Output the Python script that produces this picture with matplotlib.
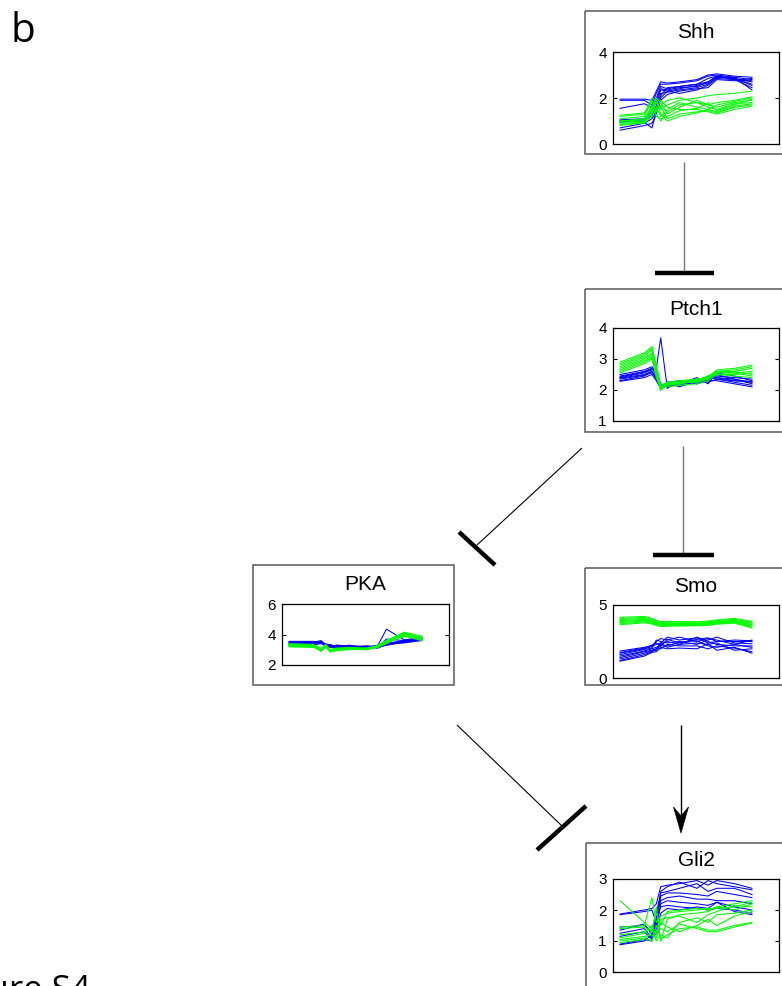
import matplotlib
matplotlib.use("Agg")
import matplotlib.pyplot as plt
from matplotlib.lines import Line2D
from matplotlib.patches import Rectangle, Polygon
from matplotlib.transforms import Affine2D

plt.rcParams['font.family'] = ['Liberation Sans', 'DejaVu Sans']

# ---------------- data ----------------
time_points = [0, 11, 14.5, 16.5, 18.5, 21.5, 27, 35, 40, 44, 52, 60]

panel_names = ['Shh', 'Ptch1', 'PKA', 'Smo', 'Gli2']
panel_ylims = [(0, 4), (1, 4), (2, 6), (0, 5), (0, 3)]
panel_yticks = [[0, 2, 4], [1, 2, 3, 4], [2, 4, 6], [0, 5], [0, 1, 2, 3]]

shh_blue = [
    [1.95, 1.95, 1.9, 2.3, 2.7, 2.65, 2.7, 2.8, 3.0, 3.05, 2.95, 2.9],
    [1.9, 1.9, 1.7, 2.2, 2.6, 2.6, 2.65, 2.75, 2.95, 3.0, 2.9, 2.8],
    [1.55, 1.75, 1.6, 2.0, 2.5, 2.4, 2.5, 2.6, 2.85, 2.95, 2.85, 2.7],
    [1.05, 1.1, 1.4, 1.9, 2.4, 2.35, 2.45, 2.5, 2.7, 2.9, 2.85, 2.6],
    [1.0, 1.05, 1.2, 1.7, 2.35, 2.3, 2.4, 2.55, 2.65, 2.95, 2.8, 2.45],
    [0.95, 1.0, 1.3, 1.5, 2.2, 2.25, 2.35, 2.45, 2.6, 2.9, 2.9, 2.35],
    [0.7, 0.9, 1.1, 1.4, 2.0, 2.3, 2.2, 2.35, 2.55, 2.85, 2.8, 2.75],
    [0.6, 0.8, 0.9, 1.3, 1.9, 2.15, 2.3, 2.4, 2.45, 2.8, 2.75, 2.85],
    [1.0, 0.95, 0.7, 1.4, 2.1, 2.45, 2.5, 2.6, 2.7, 2.95, 2.85, 2.55],
]
shh_green = [
    [1.2, 1.3, 2.0, 1.9, 1.5, 1.7, 1.9, 2.0, 2.1, 2.15, 2.2, 2.3],
    [1.1, 1.2, 1.9, 1.6, 1.2, 1.5, 1.8, 1.6, 1.5, 1.7, 1.85, 2.0],
    [1.0, 1.05, 1.5, 2.0, 1.8, 1.3, 1.6, 1.9, 1.7, 1.6, 1.8, 1.9],
    [0.95, 1.0, 1.7, 1.3, 1.0, 1.4, 1.7, 1.8, 1.6, 1.5, 1.75, 1.8],
    [0.9, 0.95, 1.4, 1.8, 1.6, 1.1, 1.3, 1.4, 1.45, 1.35, 1.6, 1.7],
    [0.85, 0.9, 1.2, 1.5, 1.9, 1.6, 1.5, 1.5, 1.4, 1.3, 1.5, 1.65],
    [1.0, 1.1, 1.6, 1.2, 1.1, 1.2, 1.45, 1.55, 1.8, 1.45, 1.7, 1.95],
    [0.8, 0.95, 1.3, 1.9, 1.3, 1.0, 1.2, 1.35, 1.5, 1.4, 1.65, 1.75],
    [1.25, 1.35, 1.85, 1.4, 1.7, 1.9, 2.0, 1.8, 1.7, 1.8, 1.9, 2.05],
]

ptch1_blue = [
    [2.5, 2.65, 2.75, 2.6, 2.1, 2.2, 2.25, 2.3, 2.4, 2.45, 2.4, 2.35],
    [2.45, 2.6, 2.7, 2.5, 2.05, 2.15, 2.2, 2.25, 2.35, 2.4, 2.3, 2.25],
    [2.4, 2.55, 2.65, 2.7, 3.68, 2.05, 2.3, 2.2, 2.3, 2.5, 2.35, 2.2],
    [2.38, 2.5, 2.6, 2.45, 2.0, 2.25, 2.1, 2.3, 2.45, 2.35, 2.25, 2.15],
    [2.35, 2.48, 2.55, 2.4, 2.1, 2.2, 2.15, 2.35, 2.3, 2.3, 2.2, 2.1],
    [2.3, 2.45, 2.6, 2.35, 2.15, 2.1, 2.2, 2.4, 2.2, 2.55, 2.45, 2.3],
    [2.28, 2.4, 2.5, 2.3, 2.05, 2.25, 2.3, 2.2, 2.35, 2.4, 2.35, 2.25],
    [2.42, 2.58, 2.68, 2.55, 2.2, 2.1, 2.25, 2.3, 2.25, 2.35, 2.3, 2.28],
]
ptch1_green = [
    [2.9, 3.2, 3.4, 2.8, 2.15, 2.2, 2.3, 2.35, 2.4, 2.65, 2.7, 2.8],
    [2.85, 3.15, 3.35, 2.7, 2.1, 2.25, 2.2, 2.3, 2.45, 2.6, 2.65, 2.75],
    [2.8, 3.1, 3.3, 2.6, 2.05, 2.15, 2.25, 2.25, 2.35, 2.6, 2.6, 2.7],
    [2.75, 3.05, 3.2, 2.55, 2.0, 2.2, 2.2, 2.3, 2.4, 2.55, 2.55, 2.6],
    [2.7, 3.0, 3.15, 2.5, 2.1, 2.1, 2.15, 2.2, 2.3, 2.5, 2.5, 2.55],
    [2.65, 2.95, 3.1, 2.45, 2.15, 2.25, 2.3, 2.3, 2.35, 2.55, 2.6, 2.5],
    [2.6, 2.9, 3.05, 2.4, 2.05, 2.2, 2.25, 2.35, 2.4, 2.6, 2.55, 2.45],
    [2.55, 2.85, 3.0, 2.5, 2.0, 2.15, 2.2, 2.3, 2.45, 2.5, 2.45, 2.4],
]

pka_blue = [
    [3.55, 3.55, 3.5, 3.4, 3.3, 3.25, 3.2, 3.25, 3.2, 3.3, 3.55, 3.8],
    [3.5, 3.5, 3.6, 3.3, 3.2, 3.3, 3.25, 3.2, 3.25, 4.35, 3.65, 3.8],
    [3.45, 3.45, 3.5, 3.25, 3.35, 3.15, 3.3, 3.15, 3.3, 3.4, 3.6, 3.75],
    [3.4, 3.5, 3.45, 3.3, 3.25, 3.2, 3.2, 3.2, 3.1, 3.35, 3.5, 3.7],
    [3.35, 3.4, 3.55, 3.2, 3.3, 3.25, 3.1, 3.25, 3.15, 3.3, 3.5, 3.65],
    [3.3, 3.35, 3.4, 3.3, 3.2, 3.1, 3.2, 3.15, 3.2, 3.45, 3.55, 3.7],
    [3.25, 3.3, 3.45, 3.35, 3.15, 3.2, 3.15, 3.1, 3.25, 3.35, 3.45, 3.6],
    [3.45, 3.4, 3.5, 3.2, 3.25, 3.3, 3.2, 3.2, 3.15, 3.7, 3.6, 3.75],
]
pka_green = [
    [3.4, 3.35, 3.1, 3.3, 3.0, 3.1, 3.15, 3.1, 3.25, 3.6, 4.15, 3.9],
    [3.35, 3.3, 3.0, 3.35, 2.95, 3.05, 3.1, 3.05, 3.2, 3.55, 4.1, 3.8],
    [3.3, 3.25, 2.95, 3.3, 2.9, 3.0, 3.05, 3.1, 3.15, 3.5, 4.05, 3.75],
    [3.25, 3.2, 2.9, 3.25, 2.85, 2.95, 3.1, 3.0, 3.2, 3.45, 4.0, 3.7],
    [3.2, 3.15, 2.95, 3.2, 2.9, 2.95, 3.0, 3.05, 3.15, 3.4, 3.95, 3.65],
    [3.3, 3.3, 3.05, 3.35, 3.0, 3.1, 3.1, 3.1, 3.25, 3.5, 3.9, 3.6],
    [3.35, 3.25, 2.9, 3.2, 2.95, 3.05, 3.05, 3.0, 3.2, 3.55, 3.85, 3.85],
    [3.2, 3.2, 3.0, 3.3, 2.85, 3.0, 3.15, 3.05, 3.3, 3.6, 4.1, 3.7],
]

smo_blue = [
    [1.85, 2.1, 2.2, 2.5, 2.7, 2.6, 2.8, 2.5, 2.7, 2.6, 2.3, 2.6],
    [1.7, 2.0, 2.15, 2.3, 2.4, 2.8, 2.6, 2.75, 2.4, 2.5, 2.5, 2.5],
    [1.6, 1.95, 2.05, 2.6, 2.5, 2.4, 2.5, 2.3, 2.6, 2.8, 2.4, 2.35],
    [1.5, 1.85, 2.0, 2.1, 2.3, 2.5, 2.3, 2.8, 2.5, 2.3, 2.2, 2.2],
    [1.4, 1.8, 1.9, 2.0, 2.2, 2.2, 2.45, 2.55, 2.2, 2.1, 2.3, 2.1],
    [1.3, 1.7, 1.85, 1.9, 2.4, 2.1, 2.3, 2.4, 2.3, 2.4, 1.9, 2.0],
    [1.2, 1.6, 1.8, 2.0, 2.0, 2.3, 2.2, 2.2, 2.0, 2.2, 2.05, 1.8],
    [1.15, 1.5, 1.75, 1.8, 2.1, 2.0, 2.05, 2.0, 2.35, 1.9, 2.1, 1.7],
    [1.75, 2.05, 2.25, 2.4, 2.2, 2.65, 2.4, 2.65, 2.75, 2.5, 2.6, 2.55],
]
smo_green = [
    [4.15, 4.22, 4.08, 3.95, 3.85, 3.88, 3.86, 3.85, 3.9, 3.98, 4.08, 3.88],
    [4.08, 4.15, 4.02, 3.9, 3.8, 3.83, 3.82, 3.82, 3.85, 3.93, 4.02, 3.82],
    [4.0, 4.08, 3.95, 3.82, 3.73, 3.76, 3.75, 3.76, 3.8, 3.88, 3.95, 3.75],
    [3.93, 4.02, 3.9, 3.78, 3.68, 3.72, 3.72, 3.72, 3.75, 3.84, 3.92, 3.68],
    [3.86, 3.96, 3.84, 3.73, 3.64, 3.67, 3.66, 3.68, 3.72, 3.8, 3.88, 3.62],
    [3.8, 3.9, 3.79, 3.68, 3.6, 3.63, 3.63, 3.64, 3.68, 3.76, 3.84, 3.55],
    [3.72, 3.84, 3.74, 3.64, 3.56, 3.58, 3.6, 3.61, 3.64, 3.72, 3.8, 3.48],
    [3.65, 3.78, 3.7, 3.6, 3.52, 3.55, 3.56, 3.58, 3.6, 3.68, 3.76, 3.42],
]

gli2_blue = [
    [1.87, 2.0, 2.05, 2.2, 2.75, 2.8, 2.85, 2.95, 2.8, 2.95, 2.85, 2.7],
    [1.85, 1.95, 2.0, 1.6, 2.6, 2.75, 2.9, 2.7, 2.95, 2.85, 2.75, 2.65],
    [1.45, 1.5, 1.3, 1.9, 2.55, 2.6, 2.7, 2.85, 2.6, 2.7, 2.7, 2.5],
    [1.35, 1.55, 1.2, 1.5, 2.45, 2.55, 2.55, 2.5, 2.45, 2.6, 2.5, 2.4],
    [1.25, 1.4, 1.1, 1.8, 2.3, 2.4, 2.45, 2.35, 2.35, 2.3, 2.3, 2.2],
    [1.15, 1.3, 1.05, 1.4, 2.2, 2.3, 2.25, 2.2, 2.15, 2.25, 2.1, 2.0],
    [0.9, 1.05, 1.0, 1.7, 2.1, 2.15, 2.1, 2.05, 2.0, 2.05, 2.0, 1.9],
    [0.88, 1.0, 1.2, 1.2, 1.9, 2.05, 2.0, 2.1, 2.05, 2.25, 1.95, 1.85],
]
gli2_green = [
    [2.3, 1.6, 1.4, 1.9, 1.5, 1.95, 2.0, 2.05, 2.0, 2.1, 2.2, 2.3],
    [1.45, 1.5, 2.4, 1.6, 1.8, 1.9, 1.95, 2.0, 2.05, 2.05, 2.1, 2.25],
    [1.4, 1.45, 1.3, 2.1, 1.0, 1.7, 1.85, 1.9, 1.95, 2.1, 2.0, 2.2],
    [1.2, 1.3, 1.5, 1.2, 1.7, 1.75, 1.8, 1.6, 1.85, 1.95, 2.15, 2.1],
    [1.1, 1.25, 1.4, 1.0, 1.2, 1.1, 1.6, 1.75, 1.6, 1.85, 1.9, 2.0],
    [1.05, 1.15, 1.2, 1.1, 1.6, 1.45, 1.3, 1.5, 1.7, 1.5, 1.8, 1.95],
    [1.0, 1.1, 1.0, 1.5, 1.05, 1.2, 1.4, 1.45, 1.35, 1.35, 1.5, 1.6],
    [0.95, 1.05, 1.3, 1.3, 1.4, 1.3, 1.55, 1.4, 1.3, 1.3, 1.45, 1.58],
]

panel_blue = [shh_blue, ptch1_blue, pka_blue, smo_blue, gli2_blue]
panel_green = [shh_green, ptch1_green, pka_green, smo_green, gli2_green]

# ---------------- layout (pixels) ----------------
W, H = 782, 986
fig = plt.figure(figsize=(W / 100, H / 100), dpi=100)
px = Affine2D().scale(1 / W, -1 / H).translate(0, 1) + fig.transFigure

# outer frame boxes (l, t, r, b) and axes boxes
frame_boxes = [(585, 11, 786, 154), (585, 289, 786, 432), (253, 565, 454, 685),
               (585, 568, 786, 685), (586, 843, 786, 990)]
axes_boxes = [(613, 52, 779, 144), (613, 328, 779, 421), (282, 604, 449, 665),
              (613, 605, 779, 678), (613, 879, 779, 972)]

for k in range(5):
    l, t, r, b = frame_boxes[k]
    fig.add_artist(Rectangle((l, t), r - l, b - t, transform=px, fill=False,
                             edgecolor='#5a5a5a', linewidth=1.1))
    al, at, ar, ab = axes_boxes[k]
    ax = fig.add_axes([al / W, 1 - ab / H, (ar - al) / W, (ab - at) / H])
    for line in panel_blue[k]:
        ax.plot(time_points, line, color='#0000ff', lw=0.75)
    for line in panel_green[k]:
        ax.plot(time_points, line, color='#00ff00', lw=0.75)
    ax.set_xlim(-3.2, 72.3)
    ax.set_ylim(*panel_ylims[k])
    ax.set_yticks(panel_yticks[k])
    ax.set_xticks([])
    ax.tick_params(axis='y', direction='in', length=3, width=0.8, labelsize=11,
                   pad=4.5, right=True, left=True, colors='black')
    for s in ax.spines.values():
        s.set_linewidth(0.9)
    fig.text((al + ar) / 2 / W, 1 - (at - 19) / H, panel_names[k], ha='center',
             va='center', fontsize=15)

# ---------------- connectors ----------------
def seg(x0, y0, x1, y1, lw, color):
    fig.add_artist(Line2D([x0, x1], [y0, y1], transform=px, lw=lw, color=color,
                          solid_capstyle='butt'))

# Shh -| Ptch1
seg(684, 162, 684, 273, 1.0, '#777777')
seg(655, 273, 714, 273, 3.2, 'black')
# Ptch1 -| Smo
seg(683, 446, 683, 555, 1.0, '#777777')
seg(653, 555, 714, 555, 3.2, 'black')
# Ptch1 -| PKA
seg(582, 448, 477, 545, 0.8, 'black')
seg(459, 532, 495, 565, 3.2, 'black')
# PKA -| Gli2
seg(457, 725, 562, 826, 0.8, 'black')
seg(537, 850, 586, 806, 3.2, 'black')
# Smo -> Gli2
seg(681, 725, 681, 818, 1.0, 'black')
fig.add_artist(Polygon([(681, 833), (673.5, 807), (681, 816), (688.5, 807)],
                       closed=True, transform=px, facecolor='black',
                       edgecolor='black', lw=0.5))

# ---------------- labels ----------------
fig.text(11 / W, 1 - 42 / H, 'b', fontsize=29, family=['Open Sans', 'DejaVu Sans'],
         ha='left', va='baseline')
fig.text(91 / W, 1 - 974 / H, 'Figure S4', fontsize=25,
         family=['Open Sans', 'DejaVu Sans'], ha='right', va='top')

fig.savefig('out.png', dpi=100)
